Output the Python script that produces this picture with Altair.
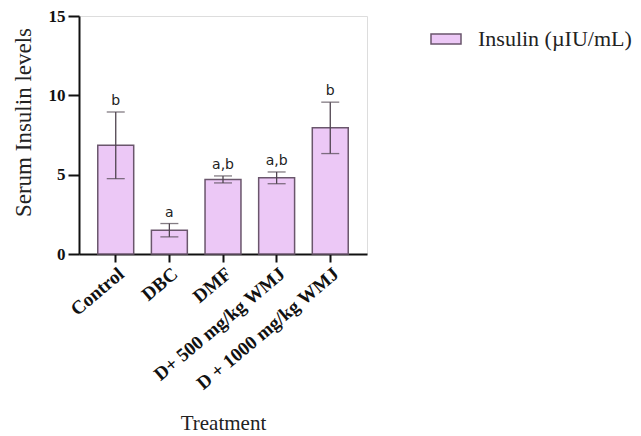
import altair as alt
import pandas as pd

groups = ["Control", "DBC", "DMF", "D+ 500 mg/kg WMJ", "D + 1000 mg/kg WMJ"]
means = [6.85, 1.5, 4.7, 4.8, 7.95]
errors = [2.1, 0.42, 0.22, 0.37, 1.62]
letters = ["b", "a", "a,b", "a,b", "b"]
series_name = "Insulin (µIU/mL)"

df = pd.DataFrame({
    "group": groups,
    "mean": means,
    "err": errors,
    "letter": letters,
    "series": [series_name] * len(groups),
})
df["lo"] = df["mean"] - df["err"]
df["hi"] = df["mean"] + df["err"]

SERIF = "Liberation Serif"
FILL = "#ECC8F6"
EDGE = "#6a566c"
ERR = "#4f444f"

x = alt.X(
    "group:N",
    sort=groups,
    scale=alt.Scale(paddingInner=0.33, paddingOuter=0.35),
    axis=alt.Axis(
        title="Treatment",
        titleFont=SERIF,
        titleFontSize=21,
        titleFontWeight="normal",
        titleColor="#222",
        titleY=169,
        titleBaseline="middle",
        labelAngle=-40,
        labelAlign="right",
        labelBaseline="top",
        labelFont=SERIF,
        labelFontWeight="bold",
        labelFontSize=19,
        labelColor="#111",
        labelPadding=2,
        labelLimit=300,
        domainColor="#111",
        domainWidth=2,
        tickColor="#111",
        tickWidth=2,
        tickSize=8,
    ),
)

y_axis = alt.Axis(
    title="Serum Insulin levels",
    titleFont=SERIF,
    titleFontSize=23,
    titleFontWeight="normal",
    titleColor="#222",
    titleX=-56,
    titleY=106,
    titleAngle=-90,
    titleAlign="center",
    titleBaseline="middle",
    values=[0, 5, 10, 15],
    labelFont=SERIF,
    labelFontWeight="bold",
    labelFontSize=17,
    labelColor="#111",
    labelPadding=3,
    domainColor="#111",
    domainWidth=2,
    tickColor="#111",
    tickWidth=2,
    tickSize=11,
    grid=False,
)

base = alt.Chart(df)

bars = base.mark_bar(stroke=EDGE, strokeWidth=1.5).encode(
    x=x,
    y=alt.Y("mean:Q", scale=alt.Scale(domain=[0, 15], nice=False), axis=y_axis),
    fill=alt.Fill(
        "series:N",
        scale=alt.Scale(range=[FILL]),
        legend=alt.Legend(
            title=None,
            orient="none",
            legendX=351,
            legendY=7,
            padding=0,
            symbolType="M-1,-0.34H1V0.34H-1Z",
            symbolSize=900,
            symbolStrokeColor=EDGE,
            symbolStrokeWidth=1.5,
            symbolOpacity=1,
            labelFont=SERIF,
            labelFontSize=22,
            labelColor="#222",
            labelOffset=16,
            labelLimit=300,
        ),
    ),
)

rules = base.mark_rule(color=ERR, strokeWidth=1.3).encode(
    x=alt.X("group:N", sort=groups),
    y="lo:Q",
    y2="hi:Q",
)

caps_hi = base.mark_tick(color=ERR, thickness=1.3, size=18, orient="horizontal").encode(
    x=alt.X("group:N", sort=groups),
    y="hi:Q",
)
caps_lo = base.mark_tick(color=ERR, thickness=1.3, size=18, orient="horizontal").encode(
    x=alt.X("group:N", sort=groups),
    y="lo:Q",
)

labels = base.mark_text(font="DejaVu Sans", fontSize=14, color="#222", dy=-4, baseline="bottom").encode(
    x=alt.X("group:N", sort=groups),
    y="hi:Q",
    text="letter:N",
)

chart = (
    alt.layer(bars, rules, caps_hi, caps_lo, labels)
    .properties(
        width=288,
        height=238,
        autosize=alt.AutoSizeParams(type="none"),
        padding={"left": 71, "top": 8, "right": 266, "bottom": 182},
    )
    .configure_view(stroke=None)
    .configure(background="white")
)

chart.save("out.html", embed_options={"renderer": "svg", "actions": False})
